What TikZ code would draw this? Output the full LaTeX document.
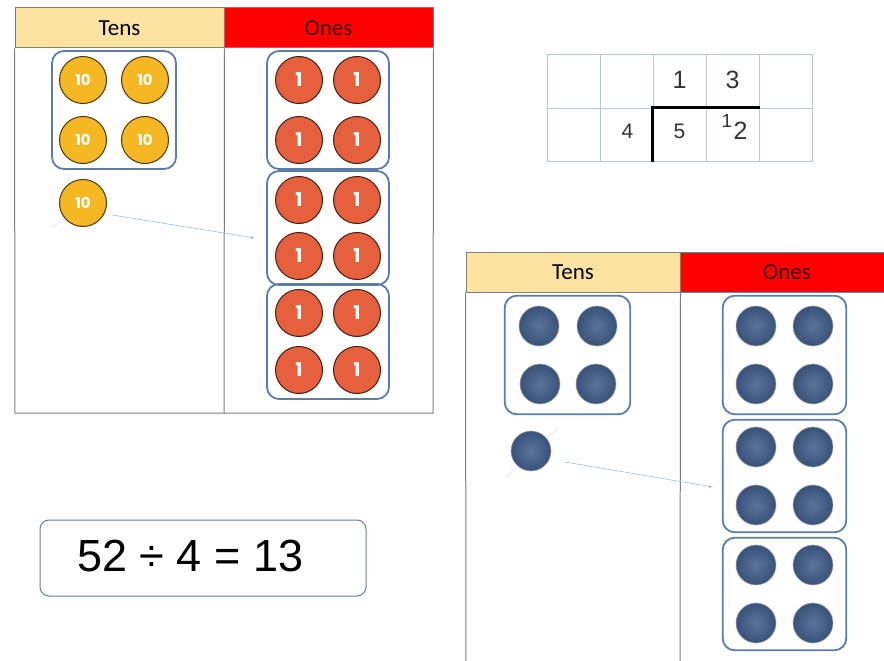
\documentclass[tikz,border=0pt]{standalone}
\usepackage{fontspec}
\setmainfont{Liberation Sans}
\newfontfamily\hdrfont{Carlito}
\newfontfamily\coinfont{Poppins}
\usetikzlibrary{arrows.meta,positioning,fit}

\definecolor{tensfill}{HTML}{FCE3A1}
\definecolor{onesfill}{HTML}{FF0000}
\definecolor{framegray}{HTML}{7F7F7F}
\definecolor{grpblue}{HTML}{5B7DA6}
\definecolor{coinyel}{HTML}{F5B722}
\definecolor{coinred}{HTML}{E6603E}
\definecolor{counterblue}{HTML}{3F5B87}
\definecolor{gridblue}{HTML}{B7C5E2}
\definecolor{arrblue}{HTML}{9CBEDF}

\begin{document}
\begin{tikzpicture}[x=1pt,y=-1pt,
   every node/.style={inner sep=0pt},
   hdr/.style={draw=framegray,line width=1pt,minimum height=40pt,
               font=\hdrfont\fontsize{23}{23}\selectfont},
   tencoin/.style={circle,draw=black!70!coinyel,line width=1pt,fill=coinyel,
               minimum size=47pt,text=white,
               font=\coinfont\bfseries\fontsize{15}{15}\selectfont},
   onecoin/.style={tencoin,fill=coinred,draw=black!70!coinred,
               font=\coinfont\bfseries\fontsize{19}{19}\selectfont},
   counter/.style={circle,draw=gray!70,line width=0.6pt,minimum size=40pt,
               inner color=counterblue!85!white,outer color=counterblue!90!black},
   grp/.style={draw=grpblue,line width=1.8pt,rounded corners=12pt},
   gridcell/.style={draw=gridblue,line width=1pt,minimum width=53pt,
               minimum height=53pt},
   digit/.style={text=black!80,font=\fontsize{25}{25}\selectfont},
   smalldigit/.style={text=black!80,font=\fontsize{21}{21}\selectfont},
   arr/.style={-{Latex[length=4pt,width=3pt]},arrblue,line width=0.6pt},
   ghost/.style={blue!12,line width=0.6pt}
]
\clip (0,0) rectangle (884,661);
\fill[white] (0,0) rectangle (884,661);

% Top-left place value table
\node[hdr,fill=tensfill,minimum width=209pt] (thA) at (119.5,28) {Tens};
\node[hdr,fill=onesfill,minimum width=209pt,text=black!75!red] (ohA) at (328.5,28) {Ones};
\draw[framegray,line width=1pt] (thA.south west) -- (15,413) -- (433,413) -- (ohA.south east);
\draw[framegray,line width=1pt] (thA.south east) -- (224,413);

% ten coins
\coordinate (gA1) at (52,228);
\coordinate (gA2) at (83,203);
\draw[ghost] (gA1) -- (gA2);
\node[tencoin] (tA1) at (83,80) {10};
\node[tencoin] (tA2) at (145,80) {10};
\node[tencoin] (tA3) at (83,140) {10};
\node[tencoin] (tA4) at (145,140) {10};
\node[grp,fit=(tA1)(tA4),inner xsep=7pt,inner ysep=5pt] (tgA) {};
\node[tencoin] (tA5) at (83,203) {10};

% one coins
\foreach \r/\y in {1/80,2/140,3/200,4/256,5/313,6/370}{
  \node[onecoin] (oA\r l) at (299,\y) {1};
  \node[onecoin] (oA\r r) at (357,\y) {1};
}
\node[grp,fit=(oA1l)(oA2r),inner xsep=8pt,inner ysep=5pt] (ogA1) {};
\node[grp,fit=(oA3l)(oA4r),inner xsep=8pt,inner ysep=5pt] (ogA2) {};
\node[grp,fit=(oA5l)(oA6r),inner xsep=8pt,inner ysep=5pt] (ogA3) {};

\coordinate (aA1) at (112,215);
\coordinate (aA2) at (255,238);
\draw[arr] (aA1) -- (aA2);

% Written division
\foreach \c in {0,...,4}{
  \node[gridcell] (ga\c) at (573.5+53*\c,81.5) {};
  \node[gridcell] (gb\c) at (573.5+53*\c,134.5) {};
}
\node[digit] (q1) at ([yshift=2pt]ga2.center) {1};
\node[digit] (q2) at ([yshift=2pt]ga3.center) {3};
\node[smalldigit] (dv) at ([xshift=1pt,yshift=3pt]gb1.center) {4};
\node[smalldigit] (n1) at ([yshift=3pt]gb2.center) {5};
\node[digit] (n2) at ([xshift=8pt,yshift=4pt]gb3.center) {2};
\node[smalldigit,font=\fontsize{19}{19}\selectfont,anchor=south east] (ex) at ([xshift=-1pt,yshift=-6pt]n2.north west) {1};
\draw[black,line width=2.6pt] (gb2.south west) -- (gb2.north west) -- (gb3.north east);

% Bottom-right place value table
\node[hdr,fill=tensfill,minimum width=214pt] (thB) at (573,272) {Tens};
\node[hdr,fill=onesfill,minimum width=214pt,text=black!75!red] (ohB) at (787,272) {Ones};
\draw[framegray,line width=1pt] (thB.south west) -- (466,680);
\draw[framegray,line width=1pt] (thB.south east) -- (680,680);

\coordinate (gB1) at (505,478);
\coordinate (gB2) at (558,428);
\draw[ghost] (gB1) -- (gB2);
\node[counter] (tB1) at (539,326) {};
\node[counter] (tB2) at (597,326) {};
\node[counter] (tB3) at (540,384) {};
\node[counter] (tB4) at (596,384) {};
\node[grp,fit=(tB1)(tB4),inner xsep=14pt,inner ysep=10pt] (tgB) {};
\node[counter] (tB5) at (531,451) {};

\foreach \r/\y in {1/326,2/384,3/447,4/505,5/565,6/623}{
  \node[counter] (oB\r l) at (756,\y) {};
  \node[counter] (oB\r r) at (813,\y) {};
}
\node[grp,fit=(oB1l)(oB2r),inner xsep=13pt,inner ysep=10pt] (ogB1) {};
\node[grp,fit=(oB3l)(oB4r),inner xsep=13pt,inner ysep=7pt] (ogB2) {};
\node[grp,fit=(oB5l)(oB6r),inner xsep=13pt,inner ysep=7pt] (ogB3) {};

\coordinate (aB1) at (565,462);
\coordinate (aB2) at (713,487);
\draw[arr] (aB1) -- (aB2);

% Equation
\node[draw=grpblue!70!gray,line width=1pt,rounded corners=9pt,
      minimum width=326pt,minimum height=76pt] (eq) at (203,558) {};
\node[anchor=west,font=\fontsize{45}{45}\selectfont] (eqt) at (77,556) {52 ÷ 4 = 13};
\end{tikzpicture}
\end{document}
